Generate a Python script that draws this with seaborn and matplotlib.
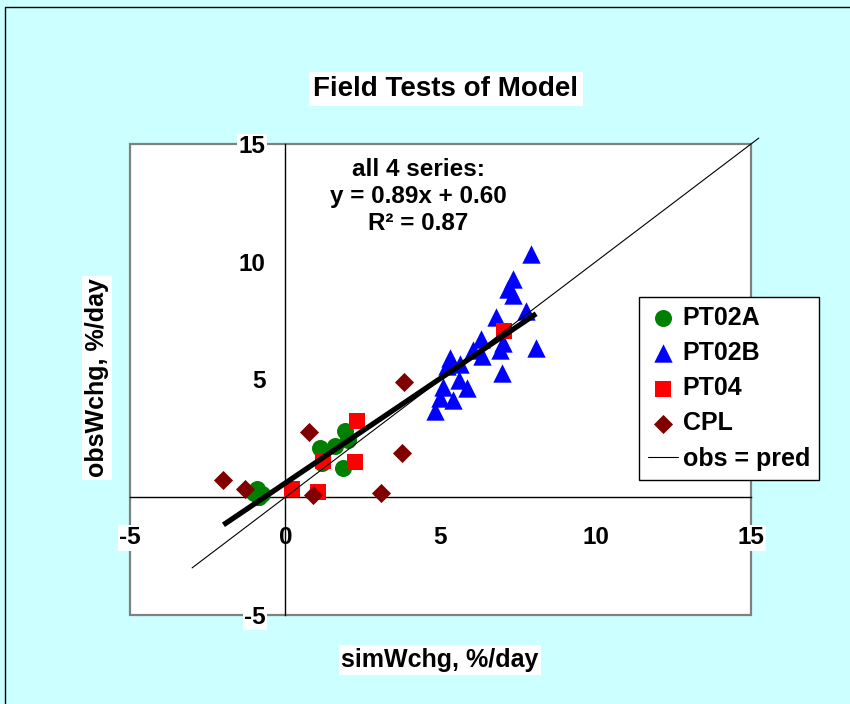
import numpy as np
import pandas as pd
import seaborn as sns
import matplotlib.pyplot as plt
from matplotlib.patches import Rectangle

pt02a_x = [-0.90, -0.75, -0.85, -1.00, 1.12, 1.17, 1.60, 1.92, 2.03, 1.87]
pt02a_y = [0.35, 0.15, 0.00, 0.20, 2.10, 1.46, 2.17, 2.81, 2.45, 1.25]

pt02b_x = [7.92, 7.35, 7.16, 7.35, 7.74, 6.78, 7.02, 6.92, 8.08, 6.29, 6.33,
           6.04, 6.98, 5.31, 5.63, 5.20, 5.58, 5.84, 5.07, 4.98, 5.41, 4.82]
pt02b_y = [10.35, 9.25, 8.85, 8.57, 7.89, 7.66, 6.56, 6.27, 6.32, 6.70, 5.99,
           6.27, 5.26, 5.92, 5.64, 5.57, 5.00, 4.65, 4.69, 4.22, 4.15, 3.66]

pt04_x = [0.21, 1.04, 1.23, 2.30, 2.25, 7.05]
pt04_y = [0.33, 0.21, 1.53, 3.23, 1.49, 7.05]

cpl_x = [-1.99, -1.30, 0.76, 0.90, 3.75, 3.08, 3.84]
cpl_y = [0.75, 0.33, 2.78, 0.09, 1.86, 0.16, 4.89]

# trend line for all 4 series (from the chart's label)
fit_slope = 0.89
fit_intercept = 0.60
fit_r2 = 0.87

diag_x = [-3.0, 15.25]

axis_ticks = [-5, 0, 5, 10, 15]

bg_color = '#CCFFFF'
W, H = 850, 704

sns.set_style("white")
plt.rcParams['font.family'] = ['Liberation Sans', 'DejaVu Sans']
plt.rcParams['font.weight'] = 'bold'
plt.rcParams['text.color'] = 'black'
plt.rcParams['xtick.color'] = 'black'
plt.rcParams['ytick.color'] = 'black'
plt.rcParams['axes.unicode_minus'] = False

fig = plt.figure(figsize=(W / 100, H / 100), dpi=100, facecolor=bg_color)
ax = fig.add_axes([130 / W, 89 / H, 621 / W, 471 / H])
ax.set_facecolor('white')

series = [
    ('PT02A', pt02a_x, pt02a_y, 'o', '#008000', 150),
    ('PT02B', pt02b_x, pt02b_y, '^', '#0000FF', 175),
    ('PT04', pt04_x, pt04_y, 's', '#FF0000', 130),
    ('CPL', cpl_x, cpl_y, 'D', '#800000', 95),
]

for name, xs, ys, mk, col, size in series:
    df = pd.DataFrame({'sim': xs, 'obs': ys})
    sns.scatterplot(data=df, x='sim', y='obs', marker=mk, color=col, s=size,
                    linewidth=0, label=name, zorder=3, ax=ax)

# 1:1 line, runs past the plot area like the original
ax.plot(diag_x, diag_x, color='black', lw=0.8, label='obs = pred',
        clip_on=False, zorder=4)

all_x = np.concatenate([pt02a_x, pt02b_x, pt04_x, cpl_x])
fx = np.array([all_x.min(), all_x.max()])
ax.plot(fx, fit_slope * fx + fit_intercept, color='black', lw=3.8,
        solid_capstyle='butt', zorder=5)

ax.set_xlim(-5, 15)
ax.set_ylim(-5, 15)
ax.set_xticks(axis_ticks)
ax.set_yticks(axis_ticks)
ax.set_xlabel('')
ax.set_ylabel('')

# axes crossing at zero, excel style
ax.spines['left'].set_position(('data', 0))
ax.spines['bottom'].set_position(('data', 0))
for side in ['left', 'bottom']:
    ax.spines[side].set_color('black')
    ax.spines[side].set_linewidth(1)
ax.spines['top'].set_visible(False)
ax.spines['right'].set_visible(False)
ax.add_patch(Rectangle((0, 0), 1, 1, transform=ax.transAxes, fill=False,
                       edgecolor='#808080', lw=1.6, clip_on=False, zorder=0.5))

ax.tick_params(axis='x', direction='out', length=6, width=1, labelsize=17.5,
               pad=15, colors='black')
ax.tick_params(axis='y', direction='out', length=6, width=1, labelsize=17.5,
               pad=8, colors='black')
for lbl in ax.get_xticklabels() + ax.get_yticklabels():
    lbl.set_fontweight('bold')
    lbl.set_bbox(dict(facecolor='white', edgecolor='none', pad=1))

ax.text(4.28, 12.77,
        'all 4 series:\ny = {:.2f}x + {:.2f}\nR² = {:.2f}'.format(fit_slope, fit_intercept, fit_r2),
        ha='center', va='center', fontsize=17.5, fontweight='bold',
        color='black', linespacing=1.2, zorder=6)

leg_ax = ax.get_legend()
if leg_ax is not None:
    leg_ax.remove()
handles, labels = ax.get_legend_handles_labels()
leg = fig.legend(handles, labels, loc='upper left',
                 bbox_to_anchor=(639 / W, 1 - 297 / H), borderaxespad=0,
                 prop={'size': 18, 'weight': 'bold'}, frameon=True,
                 fancybox=False, framealpha=1, edgecolor='black',
                 handlelength=1.2, handletextpad=0.2, labelspacing=0.45,
                 borderpad=0.35, scatterpoints=1)
leg.get_frame().set_linewidth(1)
for t in leg.get_texts():
    t.set_color('black')

fig.text(446 / W, 1 - 89 / H, 'Field Tests of Model', ha='center', va='center',
         fontsize=20, fontweight='bold', color='black',
         bbox=dict(facecolor='white', edgecolor='none', pad=3))
fig.text(440 / W, 1 - 660 / H, 'simWchg, %/day', ha='center', va='center',
         fontsize=18, fontweight='bold', color='black',
         bbox=dict(facecolor='white', edgecolor='none', pad=2))
fig.text(97 / W, 1 - 378 / H, 'obsWchg, %/day', ha='center', va='center',
         rotation=90, fontsize=18, fontweight='bold', color='black',
         bbox=dict(facecolor='white', edgecolor='none', pad=2))

# outer chart border (only left/top visible in the original crop)
fig.add_artist(Rectangle((5 / W, -0.05), 1.2, 1.05 - 7 / H,
                         transform=fig.transFigure, fill=False,
                         edgecolor='black', lw=1))

fig.savefig('out.png', dpi=100, facecolor=fig.get_facecolor())
